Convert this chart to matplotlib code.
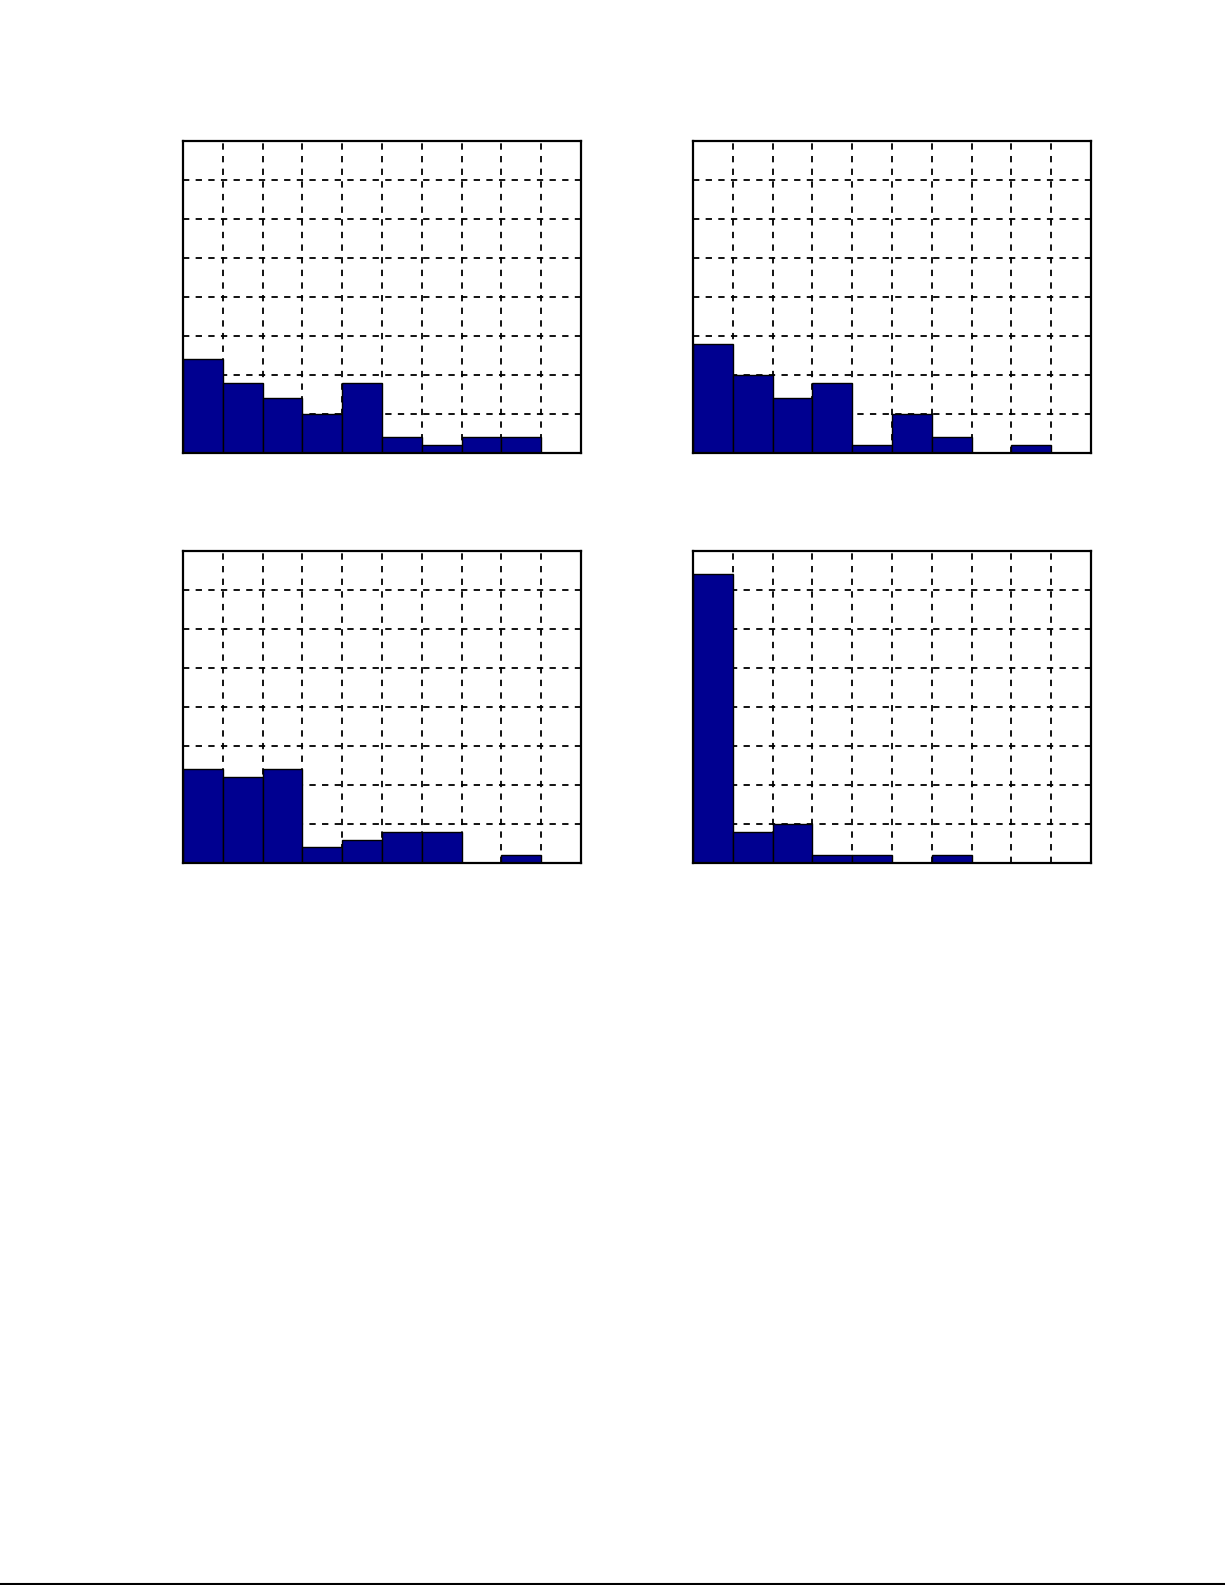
import matplotlib
matplotlib.use('Agg')
import matplotlib.pyplot as plt
from matplotlib.lines import Line2D

# counts per bin (10 bins)
bins = list(range(10))
counts_a = [12, 9, 7, 5, 9, 2, 1, 2, 2, 0]
counts_b = [14, 10, 7, 9, 1, 5, 2, 0, 1, 0]
counts_c = [12, 11, 12, 2, 3, 4, 4, 0, 1, 0]
counts_d = [37, 4, 5, 1, 1, 0, 1, 0, 0, 0]

fig = plt.figure(figsize=(12.25, 15.85), dpi=100)

boxes = [
    (183/1225, 1 - 453/1585),
    (693/1225, 1 - 453/1585),
    (183/1225, 1 - 863/1585),
    (693/1225, 1 - 863/1585),
]
w = 398/1225
h = 312/1585

for (x0, y0), counts in zip(boxes, [counts_a, counts_b, counts_c, counts_d]):
    ax = fig.add_axes([x0, y0, w, h])
    ax.bar(bins, counts, width=1, align='edge', color='#000090',
           edgecolor='black', linewidth=1)
    ax.set_xlim(0, 10)
    ax.set_ylim(0, 40)
    ax.set_xticks(range(11))
    ax.set_yticks(range(0, 41, 5))
    ax.set_xticklabels([])
    ax.set_yticklabels([])
    ax.tick_params(length=0)
    ax.set_axisbelow(True)
    ax.grid(True, linestyle=(0, (3.5, 3.5)), color='black', linewidth=1.3)
    for s in ax.spines.values():
        s.set_linewidth(1.6)

# page edge line at the bottom
fig.add_artist(Line2D([0, 1], [1 - 1584/1585, 1 - 1584/1585],
                      transform=fig.transFigure, color='black', linewidth=1.5))

fig.savefig('out.png', dpi=100)
